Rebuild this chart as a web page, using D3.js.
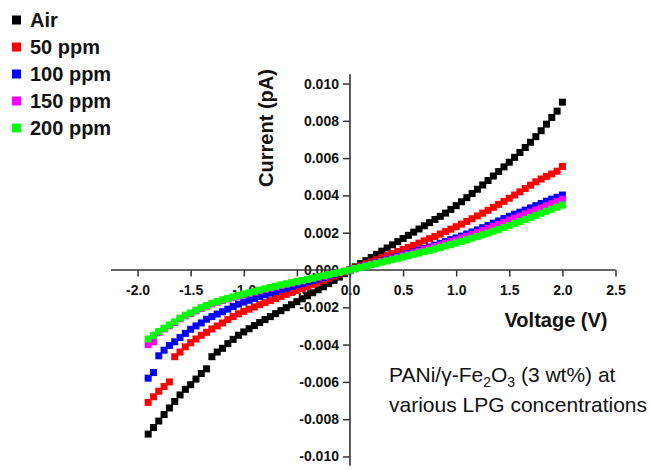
<!DOCTYPE html>
<html><head><meta charset="utf-8">
<script src="https://cdn.jsdelivr.net/npm/d3@7"></script>
<style>body{margin:0;background:#fff} svg{display:block}</style>
</head><body><svg id="c" width="650" height="470"></svg>
<script>
// Voltage (V)
const voltage = [-1.90,-1.85,-1.80,-1.75,-1.70,-1.65,-1.60,-1.55,-1.50,-1.45,-1.40,-1.35,-1.30,-1.25,-1.20,-1.15,-1.10,-1.05,-1.00,
-0.95,-0.90,-0.85,-0.80,-0.75,-0.70,-0.65,-0.60,-0.55,-0.50,-0.45,-0.40,-0.35,-0.30,-0.25,-0.20,-0.15,-0.10,-0.05,0.00,
0.05,0.10,0.15,0.20,0.25,0.30,0.35,0.40,0.45,0.50,0.55,0.60,0.65,0.70,0.75,0.80,0.85,0.90,0.95,1.00,
1.05,1.10,1.15,1.20,1.25,1.30,1.35,1.40,1.45,1.50,1.55,1.60,1.65,1.70,1.75,1.80,1.85,1.90,1.95,2.00];

// Current values in units of 0.001 pA (labels shown as 0.00x)
const currentAir = [-8.80,-8.45,-8.10,-7.75,-7.40,-7.05,-6.70,-6.40,-6.15,-5.85,-5.55,-5.30,-4.65,-4.40,-4.20,-3.95,-3.72,-3.50,-3.32,
-3.15,-2.98,-2.82,-2.66,-2.50,-2.34,-2.18,-2.02,-1.86,-1.70,-1.54,-1.38,-1.22,-1.06,-0.90,-0.73,-0.56,-0.38,-0.20,0.00,
0.17,0.34,0.50,0.67,0.84,1.01,1.18,1.35,1.52,1.69,1.86,2.03,2.20,2.37,2.54,2.71,2.88,3.05,3.25,3.45,
3.66,3.88,4.10,4.33,4.56,4.80,5.04,5.28,5.53,5.78,6.04,6.30,6.57,6.85,7.15,7.47,7.82,8.18,8.52,9.00];

const current50 = [-7.10,-6.80,-6.50,-6.25,-6.00,-4.65,-4.40,-4.12,-3.90,-3.70,-3.50,-3.34,-3.16,-3.00,-2.84,-2.66,-2.50,-2.35,-2.22,
-2.10,-1.98,-1.86,-1.75,-1.64,-1.53,-1.42,-1.31,-1.20,-1.10,-0.99,-0.88,-0.77,-0.66,-0.55,-0.44,-0.33,-0.22,-0.11,0.00,
0.11,0.22,0.33,0.44,0.55,0.66,0.77,0.88,0.99,1.10,1.21,1.32,1.44,1.56,1.68,1.80,1.93,2.06,2.19,2.32,
2.46,2.60,2.75,2.90,3.05,3.20,3.36,3.52,3.68,3.85,4.02,4.19,4.37,4.55,4.73,4.88,5.02,5.15,5.30,5.55];

const current100 = [-5.80,-5.50,-4.60,-4.30,-4.05,-3.85,-3.62,-3.40,-3.18,-3.00,-2.84,-2.64,-2.50,-2.36,-2.24,-2.10,-1.96,-1.83,-1.72,
-1.62,-1.52,-1.42,-1.33,-1.24,-1.15,-1.06,-0.97,-0.88,-0.80,-0.72,-0.64,-0.56,-0.48,-0.40,-0.32,-0.24,-0.16,-0.08,0.00,
0.08,0.16,0.24,0.32,0.40,0.48,0.56,0.64,0.72,0.80,0.88,0.97,1.06,1.15,1.24,1.33,1.43,1.53,1.63,1.72,
1.82,1.93,2.04,2.15,2.27,2.39,2.51,2.63,2.76,2.88,2.99,3.10,3.21,3.33,3.45,3.57,3.69,3.80,3.90,4.02];

const current150 = [-4.00,-3.85,-3.35,-3.16,-2.99,-2.82,-2.62,-2.46,-2.34,-2.19,-2.06,-1.94,-1.82,-1.73,-1.64,-1.56,-1.48,-1.40,-1.33,
-1.26,-1.19,-1.12,-1.05,-0.98,-0.91,-0.84,-0.77,-0.71,-0.65,-0.59,-0.52,-0.46,-0.39,-0.33,-0.26,-0.20,-0.13,-0.07,0.00,
0.07,0.15,0.22,0.30,0.37,0.45,0.53,0.60,0.68,0.76,0.84,0.92,1.00,1.09,1.18,1.26,1.34,1.43,1.52,1.61,
1.71,1.81,1.91,2.01,2.11,2.22,2.33,2.44,2.56,2.68,2.78,2.89,3.00,3.11,3.22,3.33,3.44,3.56,3.67,3.80];

const current200 = [-3.70,-3.50,-3.30,-3.12,-2.95,-2.78,-2.58,-2.42,-2.30,-2.15,-2.02,-1.90,-1.78,-1.69,-1.60,-1.52,-1.44,-1.36,-1.29,
-1.22,-1.15,-1.08,-1.01,-0.94,-0.87,-0.80,-0.74,-0.68,-0.62,-0.56,-0.50,-0.44,-0.37,-0.31,-0.25,-0.19,-0.12,-0.06,0.00,
0.07,0.14,0.21,0.28,0.35,0.42,0.49,0.56,0.63,0.70,0.77,0.84,0.91,0.98,1.05,1.13,1.21,1.29,1.37,1.45,
1.53,1.62,1.71,1.80,1.89,1.98,2.08,2.18,2.28,2.38,2.49,2.60,2.71,2.82,2.93,3.04,3.15,3.26,3.37,3.48];

const seriesNames = ["Air","50 ppm","100 ppm","150 ppm","200 ppm"];
const seriesColors = ["#000000","#ff0000","#0000ff","#ff00ff","#00ff00"];
const seriesValues = [currentAir,current50,current100,current150,current200];

const xMajorTicks = [-2.0,-1.5,-1.0,-0.5,0.0,0.5,1.0,1.5,2.0,2.5];
const xMinorTicks = [-2.25,-1.75,-1.25,-0.75,-0.25,0.25,0.75,1.25,1.75,2.25];
const yMajorTicks = [-10,-8,-6,-4,-2,0,2,4,6,8,10];
const yMinorTicks = [-9,-7,-5,-3,-1,1,3,5,7,9];

const svg = d3.select("#c");
const FONT = "'Liberation Sans', Arial, Helvetica, sans-serif";
const AX = "#333";

const x = d3.scaleLinear().domain([-2.25, 2.5]).range([111, 615.5]);
const y = d3.scaleLinear().domain([-10.5, 10.5]).range([465.8, 74.2]);

// axes
const gx = svg.append("g").attr("transform", `translate(0,${y(0)})`);
gx.call(d3.axisBottom(x).tickValues(xMinorTicks).tickSize(3.5).tickSizeOuter(0).tickFormat(""));
gx.call(d3.axisBottom(x).tickValues(xMajorTicks).tickSize(6.5).tickSizeOuter(0).tickPadding(9)
  .tickFormat(d => d.toFixed(1)));
const gy = svg.append("g").attr("transform", `translate(${x(0)},0)`);
gy.call(d3.axisLeft(y).tickValues(yMinorTicks).tickSize(4).tickSizeOuter(0).tickFormat(""));
gy.call(d3.axisLeft(y).tickValues(yMajorTicks).tickSize(7).tickSizeOuter(0).tickPadding(4)
  .tickFormat(d => (d / 1000).toFixed(3)));
svg.selectAll(".domain").remove();
svg.selectAll(".tick line").attr("stroke", AX).attr("stroke-width", 1.5);
svg.selectAll(".tick text").attr("font-family", FONT).attr("font-weight", "bold")
  .attr("font-size", 14).attr("fill", "#111");

svg.append("line").attr("x1", x(-2.25)).attr("x2", x(2.5)).attr("y1", y(0)).attr("y2", y(0))
  .attr("stroke", AX).attr("stroke-width", 1.6);
svg.append("line").attr("x1", x(0)).attr("x2", x(0)).attr("y1", y(-10.5)).attr("y2", y(10.5))
  .attr("stroke", AX).attr("stroke-width", 1.6);

// axis titles
svg.append("text").attr("x", 556).attr("y", 327).attr("text-anchor", "middle")
  .attr("font-family", FONT).attr("font-weight", "bold").attr("font-size", 20).attr("fill", "#111")
  .text("Voltage (V)");
svg.append("text").attr("transform", "translate(273,128) rotate(-90)").attr("text-anchor", "middle")
  .attr("font-family", FONT).attr("font-weight", "bold").attr("font-size", 20).attr("fill", "#111")
  .text("Current (pA)");

// data
const MS = 7;
seriesValues.forEach((vals, si) => {
  svg.append("g").selectAll("rect").data(voltage.map((v, i) => [v, vals[i]])).join("rect")
    .attr("x", d => x(d[0]) - MS / 2).attr("y", d => y(d[1]) - MS / 2)
    .attr("width", MS).attr("height", MS).attr("fill", seriesColors[si]);
});

// legend
const lg = svg.append("g");
seriesNames.forEach((name, i) => {
  const cy = 20 + i * 27;
  lg.append("rect").attr("x", 12).attr("y", cy - 4.5).attr("width", 9).attr("height", 9)
    .attr("fill", seriesColors[i]);
  lg.append("text").attr("x", 30).attr("y", cy + 7).attr("font-family", FONT)
    .attr("font-weight", "bold").attr("font-size", 20).attr("fill", "#111").text(name);
});

// annotation
const ann = svg.append("g").attr("font-family", FONT).attr("font-size", 21).attr("fill", "#111");
const t1 = ann.append("text").attr("y", 382);
t1.append("tspan").text("PANi/\u03b3-Fe");
t1.append("tspan").attr("font-size", 14).attr("dy", 5).text("2");
t1.append("tspan").attr("dy", -5).text("O");
t1.append("tspan").attr("font-size", 14).attr("dy", 5).text("3");
t1.append("tspan").attr("dy", -5).text(" (3 wt%) at");
const t2 = ann.append("text").attr("y", 412).text("various LPG concentrations");
const w2 = t2.node().getComputedTextLength();
const ax0 = 647 - w2;
t1.attr("x", ax0); t2.attr("x", ax0);
</script></body></html>
